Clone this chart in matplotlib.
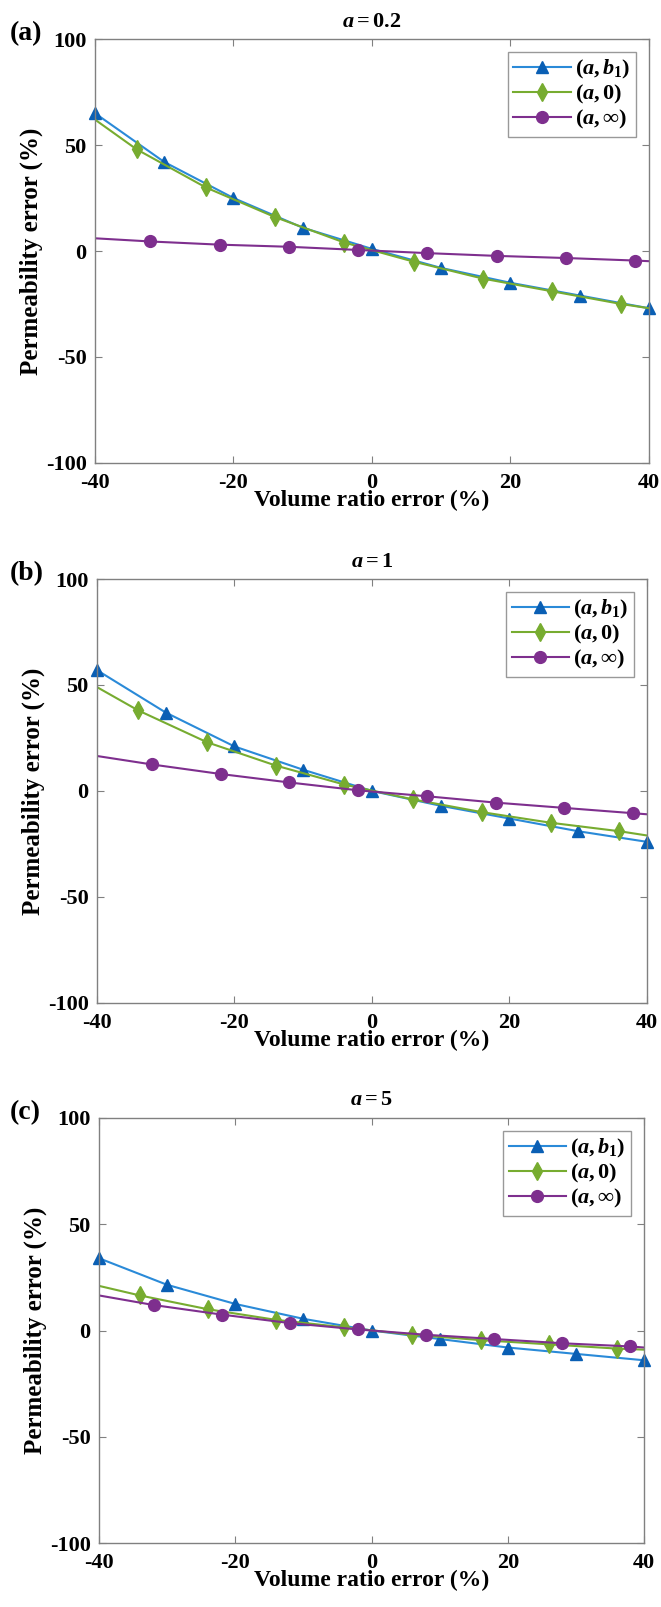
import numpy as np
import matplotlib.pyplot as plt

plt.rcParams['font.family'] = 'Liberation Serif'
plt.rcParams['font.weight'] = 'bold'
plt.rcParams['axes.labelweight'] = 'bold'
plt.rcParams['axes.titleweight'] = 'bold'
plt.rcParams['axes.unicode_minus'] = False
plt.rcParams['mathtext.fontset'] = 'custom'
plt.rcParams['mathtext.rm'] = 'Liberation Serif:bold'
plt.rcParams['mathtext.it'] = 'Liberation Serif:bold:italic'
plt.rcParams['mathtext.bf'] = 'Liberation Serif:bold'

# x positions: line end points plus marker positions
x_b1 = [-40, -30, -20, -10, 0, 10, 20, 30, 40]
x_0 = [-40, -34, -24, -14, -4, 6, 16, 26, 36, 40]
x_inf = [-40, -32, -22, -12, -2, 8, 18, 28, 38, 40]

titles = ['$a = 0.2$', '$a = 1$', '$a = 5$']
panel_labels = ['(a)', '(b)', '(c)']

# values, one list per panel
y_b1 = [
    [65, 42, 25, 11, 1, -8, -15, -21, -27],
    [57, 37, 21, 10, 0, -7, -13, -19, -24],
    [34, 21.5, 12.5, 5.5, 0, -4, -8, -11, -14],
]
y_0 = [
    [62, 48, 30, 16, 4, -5, -13, -19, -25, -27],
    [49, 38, 23, 12, 3, -4, -10, -15, -19, -21],
    [21, 16.5, 10, 5, 1.5, -2, -4.5, -6.5, -8.5, -9],
]
y_inf = [
    [6, 4.5, 3, 2, 0.5, -1, -2.3, -3.3, -4.5, -4.8],
    [16.5, 12.5, 8, 4, 0.3, -2.5, -5.5, -8, -10.5, -11],
    [16.5, 12, 7.5, 3.5, 0.5, -2, -4, -6, -7.5, -8],
]

blue_line = '#2a8ad8'
blue_mk = '#0a5fb4'
green = '#77ac30'
purple = '#7e2f8e'

fig = plt.figure(figsize=(6.61, 16.07), dpi=100)

# axes boxes in figure fraction [left, bottom, width, height]
boxes = [
    [0.1437, 0.7119, 0.8381, 0.2638],
    [0.1467, 0.3759, 0.8321, 0.2638],
    [0.1498, 0.0398, 0.8245, 0.2645],
]

for i in range(3):
    ax = fig.add_axes(boxes[i])
    ax.plot(x_b1, y_b1[i], color=blue_line, lw=1.5, marker='^', ms=9,
            mfc=blue_mk, mec=blue_mk, label='$(a, b_1)$', clip_on=False)
    ax.plot(x_0, y_0[i], color=green, lw=1.5, marker='d', ms=9,
            mfc=green, mec=green, markevery=list(range(1, 9)), label='$(a, 0)$')
    ax.plot(x_inf, y_inf[i], color=purple, lw=1.5, marker='o', ms=8.5,
            mfc=purple, mec=purple, markevery=list(range(1, 9)), label=r'$(a, \infty)$')

    ax.set_xlim(-40, 40)
    ax.set_ylim(-100, 100)
    ax.set_xticks([-40, -20, 0, 20, 40])
    ax.set_yticks([-100, -50, 0, 50, 100])
    ax.tick_params(direction='in', top=True, right=True, length=5,
                   color='#808080', labelsize=16)
    ax.tick_params(axis='x', pad=7)
    ax.tick_params(axis='y', pad=6)
    for sp in ax.spines.values():
        sp.set_color('#808080')
        sp.set_linewidth(1.0)

    ax.set_title(titles[i], fontsize=16, pad=9)
    ax.set_xlabel('Volume ratio error (%)', fontsize=17, labelpad=-2)
    ax.set_ylabel('Permeability error (%)', fontsize=18, labelpad=2)

    leg = ax.legend(loc='upper right', fontsize=16, frameon=True, fancybox=False,
                    handlelength=2.6, handletextpad=0.15, borderpad=0.25,
                    labelspacing=0.1, borderaxespad=0.6)
    leg.get_frame().set_edgecolor('#808080')
    leg.get_frame().set_linewidth(1.0)

    top = boxes[i][1] + boxes[i][3]
    fig.text(0.015, top - 0.0005, panel_labels[i], fontsize=20,
             fontweight='bold', va='baseline', ha='left')

plt.savefig('out.png', dpi=100)
